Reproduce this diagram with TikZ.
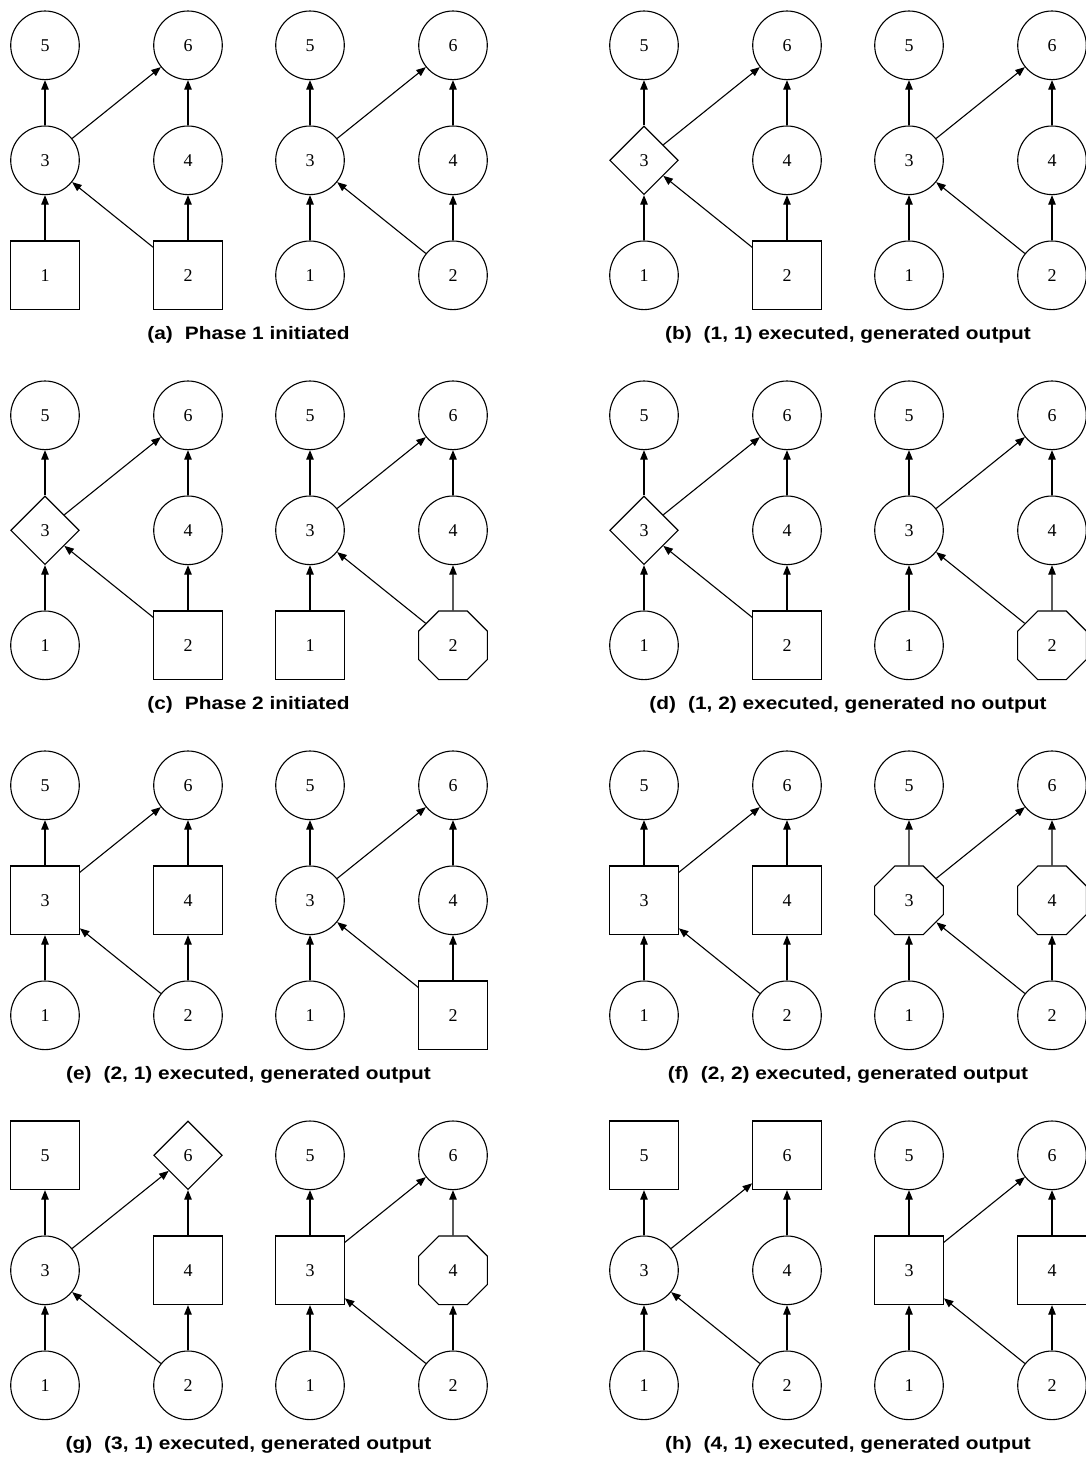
\documentclass[tikz,border=0pt]{standalone}
\usepackage{fontspec}
\setmainfont{Liberation Serif}
\newfontfamily\capfont{Liberation Sans}[FakeStretch=1.16]
\usetikzlibrary{arrows.meta,shapes.geometric}
\tikzset{
  vbase/.style={draw=black, line width=1.1pt, inner sep=0pt, font=\fontsize{18}{20}\selectfont},
  vC/.style={vbase, circle, minimum size=68.6pt},
  vS/.style={vbase, rectangle, minimum width=68.6pt, minimum height=68.6pt},
  vD/.style={vbase, diamond, aspect=1, minimum width=68.6pt, minimum height=68.6pt},
  vO/.style={vbase, regular polygon, regular polygon sides=8, minimum size=74.3pt},
  edge/.style={line width=1.1pt, -{Triangle[length=9.5pt,width=7.5pt]}},
  capstyle/.style={anchor=base, inner sep=0pt, font=\capfont\bfseries\fontsize{18}{21}\selectfont}
}
% #1 x of left column, #2 y offset, #3 name prefix, #4..#9 shapes of 5,6,3,4,1,2
\newcommand\dagpic[9]{%
  \node[#4] (#3-5) at ({#1},{#2+45.3}) {5};
  \node[#5] (#3-6) at ({#1+143},{#2+45.3}) {6};
  \node[#6] (#3-3) at ({#1},{#2+160.3}) {3};
  \node[#7] (#3-4) at ({#1+143},{#2+160.3}) {4};
  \node[#8] (#3-1) at ({#1},{#2+275.3}) {1};
  \node[#9] (#3-2) at ({#1+143},{#2+275.3}) {2};
  \draw[edge] (#3-1) -- (#3-3);
  \draw[edge] (#3-2) -- (#3-3);
  \draw[edge] (#3-2) -- (#3-4);
  \draw[edge] (#3-3) -- (#3-5);
  \draw[edge] (#3-3) -- (#3-6);
  \draw[edge] (#3-4) -- (#3-6);
}
\begin{document}
\begin{tikzpicture}[x=1pt, y=-1pt]
\useasboundingbox (0,0) rectangle (1086,1462);
\clip (0,0) rectangle (1086,1462);
% (a)
\dagpic{45}{0}{aL}{vC}{vC}{vC}{vC}{vS}{vS}
\dagpic{310}{0}{aR}{vC}{vC}{vC}{vC}{vC}{vC}
\node[capstyle] (capa) at (248.5,339) {(a)\hspace{12pt}Phase 1 initiated};
% (b)
\dagpic{644}{0}{bL}{vC}{vC}{vD}{vC}{vC}{vS}
\dagpic{909}{0}{bR}{vC}{vC}{vC}{vC}{vC}{vC}
\node[capstyle] (capb) at (848,339) {(b)\hspace{12pt}(1, 1) executed, generated output};
% (c)
\dagpic{45}{370}{cL}{vC}{vC}{vD}{vC}{vC}{vS}
\dagpic{310}{370}{cR}{vC}{vC}{vC}{vC}{vS}{vO}
\node[capstyle] (capc) at (248.5,709) {(c)\hspace{12pt}Phase 2 initiated};
% (d)
\dagpic{644}{370}{dL}{vC}{vC}{vD}{vC}{vC}{vS}
\dagpic{909}{370}{dR}{vC}{vC}{vC}{vC}{vC}{vO}
\node[capstyle] (capd) at (848,709) {(d)\hspace{12pt}(1, 2) executed, generated no output};
% (e)
\dagpic{45}{740}{eL}{vC}{vC}{vS}{vS}{vC}{vC}
\dagpic{310}{740}{eR}{vC}{vC}{vC}{vC}{vC}{vS}
\node[capstyle] (cape) at (248.5,1079) {(e)\hspace{12pt}(2, 1) executed, generated output};
% (f)
\dagpic{644}{740}{fL}{vC}{vC}{vS}{vS}{vC}{vC}
\dagpic{909}{740}{fR}{vC}{vC}{vO}{vO}{vC}{vC}
\node[capstyle] (capf) at (848,1079) {(f)\hspace{12pt}(2, 2) executed, generated output};
% (g)
\dagpic{45}{1110}{gL}{vS}{vD}{vC}{vS}{vC}{vC}
\dagpic{310}{1110}{gR}{vC}{vC}{vS}{vO}{vC}{vC}
\node[capstyle] (capg) at (248.5,1449) {(g)\hspace{12pt}(3, 1) executed, generated output};
% (h)
\dagpic{644}{1110}{hL}{vS}{vS}{vC}{vC}{vC}{vC}
\dagpic{909}{1110}{hR}{vC}{vC}{vS}{vS}{vC}{vC}
\node[capstyle] (caph) at (848,1449) {(h)\hspace{12pt}(4, 1) executed, generated output};
\end{tikzpicture}
\end{document}
